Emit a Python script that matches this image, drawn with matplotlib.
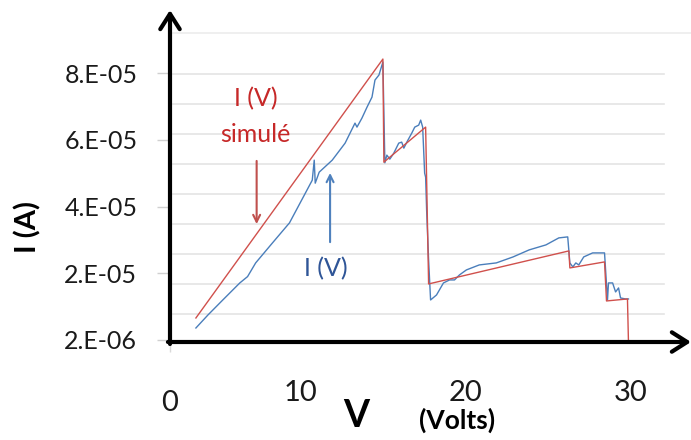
"""I(V) curve: measured vs simulated, redrawn from the reference figure."""

import matplotlib
matplotlib.use("Agg")
import matplotlib.pyplot as plt

plt.rcParams["font.family"] = ["Lato", "DejaVu Sans"]

# simulated curve (piecewise linear), V in volts, I in amperes
v_sim = [3.67, 15.0, 15.06, 17.59, 17.77, 26.27, 26.33, 28.43, 28.55, 29.82, 29.88]
i_sim = [8.6e-6, 86.2e-6, 55.3e-6, 65.8e-6, 18.8e-6, 28.7e-6, 23.6e-6, 25.4e-6, 13.7e-6, 14.3e-6, 1.5e-6]

# measured curve
v_meas = [3.67, 4.40, 5.30, 6.33, 6.80, 7.29, 8.31, 9.34, 10.30, 10.72, 10.84, 10.90, 11.14,
          11.93, 12.71, 13.31, 13.43, 13.73, 14.04, 14.34, 14.52, 14.76, 15.0,
          15.12, 15.24, 15.42, 15.66, 15.96, 16.14, 16.27, 16.45, 16.75, 16.93,
          17.17, 17.29, 17.41, 17.53, 17.59, 17.65, 17.77, 17.89, 18.25, 18.67,
          19.04, 19.34, 19.64, 20.06, 20.84, 21.87, 22.89, 23.86, 24.88, 25.66,
          26.20, 26.33, 26.51, 26.69, 26.87, 27.17, 27.71, 28.43, 28.61, 28.67,
          28.92, 29.10, 29.28, 29.40, 29.70, 29.88]
i_meas = [5.6, 9.5, 14.0, 19.1, 21.0, 25.1, 31.1, 37.1, 46.0, 49.9, 55.9, 49.0, 52.3,
          55.9, 61.0, 67.0, 65.8, 68.5, 71.8, 74.8, 79.9, 81.4, 85.3,
          55.1, 57.4, 56.2, 58.0, 61.0, 61.3, 59.5, 61.3, 64.0, 65.8,
          66.4, 67.9, 65.8, 52.0, 50.8, 40.9, 26.0, 14.0, 15.5, 19.1,
          20.0, 20.0, 21.5, 23.0, 24.5, 25.1, 26.9, 29.0, 30.5, 32.6,
          32.9, 25.1, 23.9, 25.1, 24.5, 26.9, 28.1, 28.1, 14.0, 19.1,
          19.1, 16.4, 17.6, 14.6, 14.3, 14.3]
i_meas = [v * 1e-6 for v in i_meas]

# axis labels as in the original (Excel "0.E+00" format)
y_tick_vals = [2e-6, 22e-6, 42e-6, 62e-6, 82e-6]
y_tick_labels = ["2.E-06", "2.E-05", "4.E-05", "6.E-05", "8.E-05"]
x_tick_vals = [10, 20, 30]
x_tick_labels = ["10", "20", "30"]
x_zero_pos = 2.1  # the "0" label sits right at the y axis in the original
grid_vals = [9.8e-6, 18.8e-6, 27.8e-6, 36.8e-6, 45.8e-6, 54.8e-6, 63.8e-6, 72.8e-6, 81.8e-6]
grid_top = 94.0e-6

RED_LINE = "#d0504c"
BLUE_LINE = "#4a7ebb"
RED_TEXT = "#c62828"
BLUE_TEXT = "#2f5597"

fig = plt.figure(figsize=(6.91, 4.40), dpi=100)
ax = fig.add_axes([170 / 691, 98 / 440, 521 / 691, 332 / 440])
ax.set_xlim(2.29, 33.67)
ax.set_ylim(1.4e-6, 100.9e-6)
for s in ax.spines.values():
    s.set_visible(False)

for g in grid_vals:
    ax.axhline(g, xmin=0.006, xmax=0.948, color="#e4e4e4", lw=1.2, zorder=0)
ax.axhline(grid_top, xmin=0.006, xmax=1.0, color="#ececec", lw=1.2, zorder=0)

ax.plot(v_meas, i_meas, color=BLUE_LINE, lw=1.0, zorder=2)
ax.plot(v_sim, i_sim, color=RED_LINE, lw=1.0, zorder=3)

# axes with arrow heads
arrow = dict(arrowstyle="->,head_length=0.55,head_width=0.35", lw=3, color="black",
             shrinkA=0, shrinkB=0, mutation_scale=20)
ax.annotate("", xy=(0, 1), xytext=(0, -0.006), xycoords="axes fraction", arrowprops=arrow, zorder=5)
ax.annotate("", xy=(1, 0), xytext=(-0.004, 0), xycoords="axes fraction", arrowprops=arrow, zorder=5)

ax.set_yticks(y_tick_vals)
ax.set_yticklabels(y_tick_labels)
ax.tick_params(axis="y", length=9.5, width=1, color="#d0d0d0", pad=14, labelsize=18, labelcolor="#1a1a1a")
ax.set_xticks(x_tick_vals)
ax.set_xticklabels(x_tick_labels)
ax.tick_params(axis="x", length=0, pad=27, labelsize=21, labelcolor="#1a1a1a")
ax.set_xticks([x_zero_pos], minor=True)
ax.set_xticklabels(["0"], minor=True)
ax.tick_params(axis="x", which="minor", direction="inout", length=15, width=1, color="#d9d9d9",
               pad=27, labelsize=21, labelcolor="#1a1a1a")

fig.text(356 / 691, 1 - 416 / 440, "V", fontsize=27, fontweight="bold", ha="center", va="center")
fig.text(457 / 691, 1 - 420 / 440, "(Volts)", fontsize=19, fontweight="bold", ha="center", va="center")
fig.text(28 / 691, 1 - 227 / 440, "I (A)", fontsize=21, fontweight="bold", rotation=90,
         ha="center", va="center")

# annotations
ax.text(7.29, 74.2e-6, "I (V)", color=RED_TEXT, fontsize=18, ha="center", va="center")
ax.text(7.29, 63.7e-6, "simulé", color=RED_TEXT, fontsize=18, ha="center", va="center")
ax.annotate("", xy=(7.35, 35.9e-6), xytext=(7.35, 56.5e-6),
            arrowprops=dict(arrowstyle="->,head_length=0.5,head_width=0.25", lw=1.5, color="#c0504d"))
ax.text(11.57, 23.3e-6, "I (V)", color=BLUE_TEXT, fontsize=18, ha="center", va="center")
ax.annotate("", xy=(11.8, 52.9e-6), xytext=(11.8, 30.5e-6),
            arrowprops=dict(arrowstyle="->,head_length=0.5,head_width=0.25", lw=1.5, color="#4f81bd"))

fig.savefig("out.png", dpi=100)
